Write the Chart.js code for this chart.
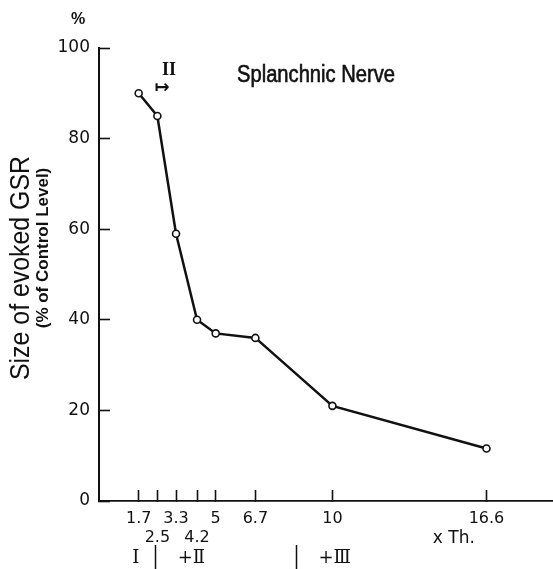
<!DOCTYPE html>
<html lang="en">
<head>
    <meta charset="UTF-8">
    <title>Splanchnic Nerve</title>
    <script src="https://cdn.jsdelivr.net/npm/chart.js"></script>
    <style>
        html, body { margin: 0; padding: 0; background: #fff; }
        #wrap { position: relative; width: 553px; height: 569px; }
    </style>
</head>
<body>
    <div id="wrap"><canvas id="gsrChart"></canvas></div>

    <script>
        // stimulus strength (x Th.) and evoked GSR size (% of control)
        const stimulus = [1.7, 2.5, 3.3, 4.2, 5, 6.7, 10, 16.6];
        const gsrSize = [90, 85, 59, 40, 37, 36, 21, 11.6];

        // x axis ticks: value, label, row (0 = upper row, 1 = lower row)
        const xTicks = [1.7, 2.5, 3.3, 4.2, 5, 6.7, 10, 16.6];
        const xTickLabels = ['1.7', '2.5', '3.3', '4.2', '5', '6.7', '10', '16.6'];
        const xTickRows = [0, 1, 0, 1, 0, 0, 0, 0];
        const yTicks = [0, 20, 40, 60, 80, 100];

        // fiber group row under the axis
        const groupLabels = ['I', '+\u2161', '+\u2162'];
        const groupCenters = [1.58, 3.96, 10.1];
        const groupDividers = [2.42, 8.45];

        const ink = '#111';

        // extra lettering: titles, % sign, group row
        const annotations = {
            id: 'annotations',
            afterDraw(chart) {
                const ctx = chart.ctx;
                const xs = chart.scales.x;
                ctx.save();
                ctx.fillStyle = ink;
                ctx.strokeStyle = ink;
                ctx.textBaseline = 'middle';
                ctx.textAlign = 'center';

                ctx.font = '23px "Liberation Sans"';
                ctx.lineWidth = 0.6;
                ctx.fillText('Splanchnic Nerve', 316, 76, 158);
                ctx.strokeText('Splanchnic Nerve', 316, 76, 158);

                ctx.font = 'bold 16px "Liberation Sans"';
                ctx.fillText('%', 78, 20);

                // marker above the second point
                ctx.font = 'bold 18px "Liberation Serif"';
                ctx.fillText('II', 169, 70);
                ctx.font = 'bold 18px "DejaVu Sans"';
                ctx.fillText('\u21a6', 162, 88);

                // y axis title, two lines
                ctx.save();
                ctx.translate(22, 268);
                ctx.rotate(-Math.PI / 2);
                ctx.font = '27px "Liberation Sans"';
                ctx.fillText('Size of evoked GSR', 0, 0, 224);
                ctx.restore();
                ctx.save();
                ctx.translate(43, 248);
                ctx.rotate(-Math.PI / 2);
                ctx.font = 'bold 17px "Liberation Sans"';
                ctx.fillText('(% of Control Level)', 0, 0, 170);
                ctx.restore();

                ctx.font = '17px "DejaVu Sans"';
                ctx.fillText('x Th.', xs.getPixelForValue(15.2), 539);

                ctx.font = '18px "DejaVu Serif"';
                groupLabels.forEach((t, i) => {
                    ctx.fillText(t, xs.getPixelForValue(groupCenters[i]), 558);
                });
                ctx.lineWidth = 1.5;
                groupDividers.forEach(v => {
                    const px = Math.round(xs.getPixelForValue(v)) + 0.5;
                    ctx.beginPath();
                    ctx.moveTo(px, 545);
                    ctx.lineTo(px, 569);
                    ctx.stroke();
                });
                ctx.restore();
            }
        };

        const canvas = document.getElementById('gsrChart');
        canvas.width = 553;
        canvas.height = 569;

        new Chart(canvas.getContext('2d'), {
            type: 'scatter',
            data: {
                datasets: [{
                    data: stimulus.map((x, i) => ({ x: x, y: gsrSize[i] })),
                    showLine: true,
                    borderColor: ink,
                    borderWidth: 2.5,
                    pointRadius: 3.5,
                    pointBorderWidth: 1.6,
                    pointBackgroundColor: '#fff',
                    pointBorderColor: ink,
                    tension: 0,
                    clip: false
                }]
            },
            options: {
                responsive: false,
                animation: false,
                layout: { autoPadding: false, padding: { top: 48, left: 0, right: 0, bottom: 0 } },
                plugins: {
                    legend: { display: false },
                    tooltip: { enabled: false }
                },
                scales: {
                    x: {
                        type: 'linear',
                        min: 0,
                        max: 19.45,
                        afterFit(scale) { scale.height = 68; },
                        afterBuildTicks(scale) {
                            scale.ticks = xTicks.map(v => ({ value: v }));
                        },
                        border: { display: true, color: ink, width: 1.8 },
                        grid: {
                            drawOnChartArea: false,
                            drawTicks: true,
                            tickLength: -11,
                            tickWidth: 1.6,
                            tickColor: ink
                        },
                        ticks: {
                            autoSkip: false,
                            maxRotation: 0,
                            minRotation: 0,
                            padding: 19,
                            color: ink,
                            font: { family: '"DejaVu Sans"', size: 16 },
                            callback(value, index) {
                                const label = xTickLabels[index];
                                return xTickRows[index] ? ['', label] : label;
                            }
                        }
                    },
                    y: {
                        min: 0,
                        max: 100,
                        afterFit(scale) { scale.width = 99; },
                        afterBuildTicks(scale) {
                            scale.ticks = yTicks.map(v => ({ value: v }));
                        },
                        border: { display: true, color: ink, width: 2 },
                        grid: {
                            drawOnChartArea: false,
                            drawTicks: true,
                            tickLength: -11,
                            tickWidth: 1.6,
                            tickColor: ink
                        },
                        ticks: {
                            padding: 20,
                            color: ink,
                            font: { family: '"DejaVu Sans"', size: 17 }
                        }
                    }
                }
            },
            plugins: [annotations]
        });
    </script>
</body>
</html>
